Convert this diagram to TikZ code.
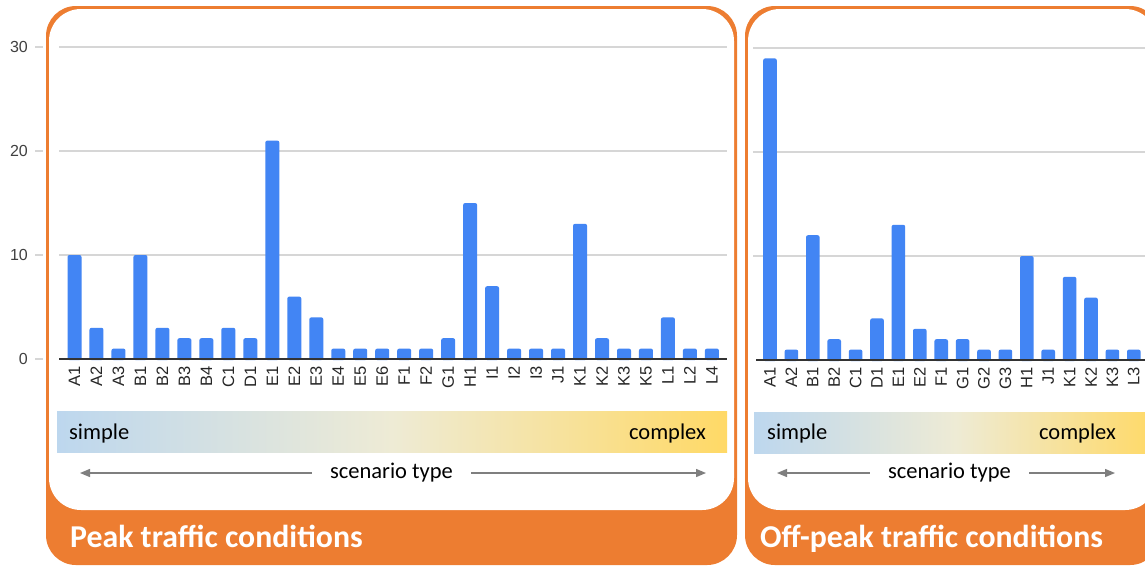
\documentclass[tikz,border=0pt]{standalone}
\usepackage{fontspec}
\setmainfont{Carlito}
\newfontfamily\chartfont{Liberation Sans}
\usetikzlibrary{arrows.meta}
\definecolor{panelorange}{HTML}{ED7D31}
\definecolor{barblue}{HTML}{4285F4}
\definecolor{gridgrey}{HTML}{D6D6D6}
\definecolor{axisgrey}{HTML}{333333}
\definecolor{arrowgrey}{HTML}{7F7F7F}
\definecolor{simpleblue}{HTML}{BDD7EE}
\definecolor{midcream}{HTML}{EEEBD5}
\definecolor{complexgold}{HTML}{FFD966}
\tikzset{
	every node/.style={inner sep=0pt},
	panel/.style={fill=panelorange,rounded corners=30pt},
	inner-panel/.style={fill=white,rounded corners=32pt},
	gridline/.style={draw=gridgrey,line width=1.2pt},
	axisline/.style={draw=axisgrey,line width=1.6pt},
	bar/.style={fill=barblue,rounded corners=2pt},
	bar-label/.style={font=\chartfont\fontsize{16.5}{16.5}\selectfont,rotate=90,anchor=east,text=black!85},
	tick-label/.style={font=\chartfont\fontsize{16}{16}\selectfont,anchor=east,text=black!75},
	scale-bar/.style={left color=simpleblue,right color=complexgold,middle color=midcream},
	scale-text/.style={font=\fontsize{22.5}{24}\selectfont},
	type-label/.style={font=\fontsize{22.5}{24}\selectfont,text height=11pt,text depth=0pt,inner xsep=18pt},
	title/.style={font=\bfseries\fontsize{31.8}{34}\selectfont,text=white,anchor=base west},
}
\tikzstyle{typearrow} = [line width=1.3pt,draw=arrowgrey,->,>={Triangle[length=10pt,width=8pt]},arrowgrey]

\begin{document}
\begin{tikzpicture}[x=1pt,y=-1pt]
	\useasboundingbox (0,0) rectangle (1145,566);

	% peak panel
	\fill[panel] (46,6) rectangle (737,565);
	\fill[inner-panel] (49,9) rectangle (734,510);
	\foreach \v in {10,20,30} {
		\draw[gridline] (59,{359-10.4*\v}) -- (727,{359-10.4*\v});
	}
	\foreach \v in {0,10,20,30} {
		\draw[gridline] (35,{359-10.4*\v}) -- (43,{359-10.4*\v});
		\node[tick-label] (pt\v) at (28,{359-10.4*\v}) {\v};
	}
	\foreach \lab/\val [count=\i from 0] in {A1/10,A2/3,A3/1,B1/10,B2/3,B3/2,B4/2,C1/3,D1/2,E1/21,E2/6,E3/4,E4/1,E5/1,E6/1,F1/1,F2/1,G1/2,H1/15,I1/7,I2/1,I3/1,J1/1,K1/13,K2/2,K3/1,K5/1,L1/4,L2/1,L4/1} {
		\fill[bar] ({74.5+21.98*\i-7},360) rectangle ({74.5+21.98*\i+7},{359-10.4*\val});
		\node[bar-label] (pk\lab) at ({74.5+21.98*\i},366) {\lab};
	}
	\draw[axisline] (59,359) -- (727,359);

	\shade[scale-bar] (57,411) rectangle (727,452);
	\node[scale-text,anchor=base west] (pSimple) at (69,439) {simple};
	\node[scale-text,anchor=base east] (pComplex) at (706,439) {complex};
	\node[type-label] (pType) at (391.5,473) {scenario type};
	\coordinate (pLeft) at (80,473);
	\coordinate (pRight) at (706,473);
	\draw[typearrow] (pType) -- (pLeft);
	\draw[typearrow] (pType) -- (pRight);
	\node[title] (pTitle) at (70,547) {Peak traffic conditions};

	% off-peak panel
	\fill[panel] (745,6) rectangle (1160,565);
	\fill[inner-panel] (748,9) rectangle (1157,510);
	\foreach \v in {10,20,30} {
		\draw[gridline] (753,{360-10.4*\v}) -- (1150,{360-10.4*\v});
	}
	\foreach \lab/\val [count=\i from 0] in {A1/29,A2/1,B1/12,B2/2,C1/1,D1/4,E1/13,E2/3,F1/2,G1/2,G2/1,G3/1,H1/10,J1/1,K1/8,K2/6,K3/1,L3/1} {
		\fill[bar] ({770+21.4*\i-6.8},361) rectangle ({770+21.4*\i+6.8},{360-10.4*\val});
		\node[bar-label] (op\lab) at ({770+21.4*\i},367) {\lab};
	}
	\draw[axisline] (756,360) -- (1150,360);

	\shade[scale-bar] (754,412) rectangle (1157,453);
	\node[scale-text,anchor=base west] (opSimple) at (767,439) {simple};
	\node[scale-text,anchor=base east] (opComplex) at (1116,439) {complex};
	\node[type-label] (opType) at (949.5,473) {scenario type};
	\coordinate (opLeft) at (777,473);
	\coordinate (opRight) at (1115,473);
	\draw[typearrow] (opType) -- (opLeft);
	\draw[typearrow] (opType) -- (opRight);
	\node[title] (opTitle) at (760,547) {Off-peak traffic conditions};
\end{tikzpicture}
\end{document}
